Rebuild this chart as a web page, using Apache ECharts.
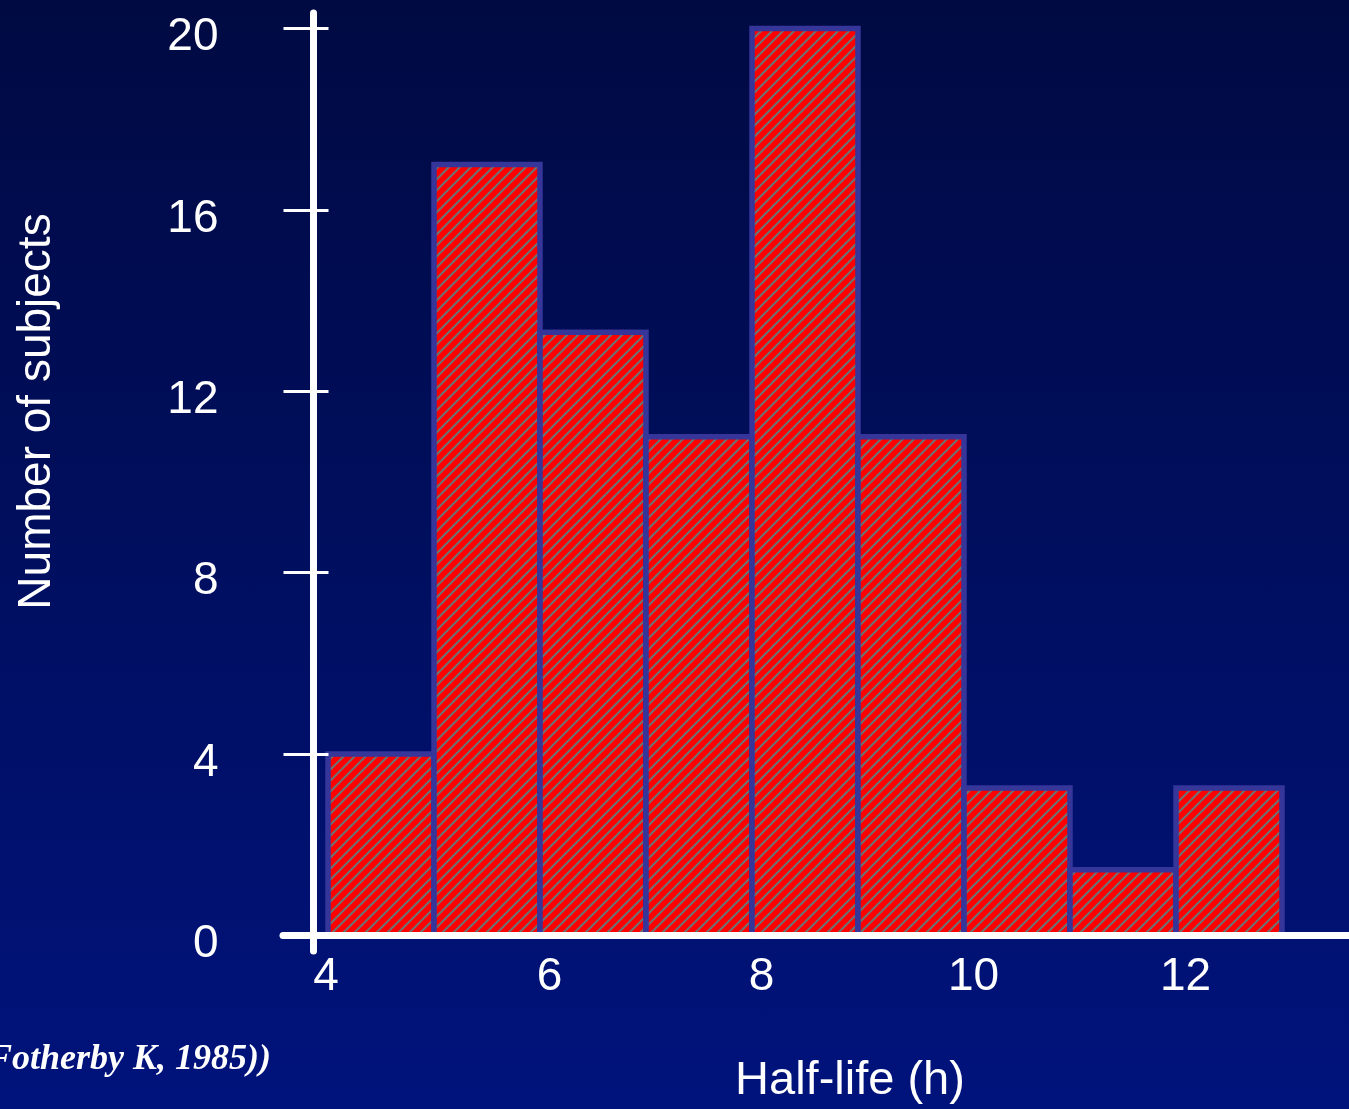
<!DOCTYPE html>
<html><head><meta charset="utf-8">
<script src="https://cdn.jsdelivr.net/npm/echarts@6/dist/echarts.min.js"></script>
<style>
html,body{margin:0;padding:0;width:1349px;height:1109px;overflow:hidden;background:linear-gradient(to bottom,#000a42 0%,#000e5c 45%,#00137c 100%);}
#c{width:1349px;height:1109px;}
</style>
</head><body><div id="c"></div>
<script>
// ---- data ----
const binStarts = [4, 5, 6, 7, 8, 9, 10, 11, 12];
const binEnds   = [5, 6, 7, 8, 9, 10, 11, 12, 13];
const counts    = [4, 17, 13.3, 11, 20, 11, 3.25, 1.45, 3.25];
const xTickLabels = [4, 6, 8, 10, 12];
const yTickLabels = [0, 4, 8, 12, 16, 20];
const yTitle = 'Number of subjects';
const xTitle = 'Half-life (h)';
const sourceText = '(Fotherby K, 1985))';

// hatch pattern
const pc = document.createElement('canvas');
const P = 11;
pc.width = P; pc.height = P;
const g = pc.getContext('2d');
g.fillStyle = '#ff0000';
g.fillRect(0, 0, P, P);
g.strokeStyle = '#707070';
g.lineWidth = 2.2;
for (let k = -1; k <= 1; k++) {
  g.beginPath();
  g.moveTo(k * P - 1, P + 1);
  g.lineTo(k * P + P + 1, -1);
  g.stroke();
}
const hatch = { image: pc, repeat: 'repeat' };

const barData = binStarts.map((s, i) => [s, binEnds[i], counts[i]]);

const FONT = '"Liberation Sans", Arial, sans-serif';
const chart = echarts.init(document.getElementById('c'), null, { renderer: 'canvas' });

const yCommon = {
  type: 'value', position: 'left', offset: -30.5,
  min: -0.342, max: 20.342,
  splitLine: { show: false }
};

chart.setOption({
  backgroundColor: 'transparent',
  animation: false,
  grid: { left: 283, right: 0, top: 13, bottom: 158, containLabel: false },
  xAxis: {
    type: 'value', min: 3.5755, max: 13.632, z: 5,
    axisLine: { onZero: true, lineStyle: { color: '#ffffff', width: 7 } },
    axisTick: { show: false },
    splitLine: { show: false },
    axisLabel: {
      customValues: xTickLabels,
      margin: 3,
      color: '#ffffff',
      fontSize: 46,
      fontFamily: FONT,
      formatter: v => (v === xTickLabels[0] ? '{a|' + v + '}' : '{b|' + v + '}'),
      rich: {
        a: { color: '#ffffff', fontSize: 46, fontFamily: FONT, padding: [0, 4, 0, 0] },
        b: { color: '#ffffff', fontSize: 46, fontFamily: FONT, padding: [0, 0, 0, 19] }
      }
    }
  },
  yAxis: [
    Object.assign({}, yCommon, {
      z: 5,
      axisLine: { show: true, onZero: false, lineStyle: { color: '#ffffff', width: 7 } },
      axisTick: { show: true, customValues: yTickLabels, length: 30, inside: false,
                  lineStyle: { color: '#ffffff', width: 3 } },
      axisLabel: { customValues: yTickLabels, margin: 95, color: '#ffffff',
                   fontSize: 46, fontFamily: FONT,
                   formatter: v => '{a|' + v + '}',
                   rich: { a: { color: '#ffffff', fontSize: 46, fontFamily: FONT, padding: [18, 0, 0, 0] } } }
    }),
    Object.assign({}, yCommon, {
      z: 5,
      axisLine: { show: false, onZero: false },
      axisTick: { show: true, customValues: yTickLabels, length: 15, inside: true,
                  lineStyle: { color: '#ffffff', width: 3 } },
      axisLabel: { show: false }
    })
  ],
  series: [{
    type: 'custom',
    z: 2,
    data: barData,
    encode: { x: [0, 1], y: 2 },
    renderItem: function (params, api) {
      const p0 = api.coord([api.value(0), api.value(2)]);
      const p1 = api.coord([api.value(1), 0]);
      return {
        type: 'rect',
        shape: { x: p0[0], y: p0[1], width: p1[0] - p0[0], height: p1[1] - p0[1] },
        style: { fill: hatch, stroke: '#35359a', lineWidth: 5.5 }
      };
    }
  }],
  graphic: [
    { type: 'text', x: 37, y: 411.5, rotation: Math.PI / 2,
      style: { text: yTitle, fill: '#ffffff', font: '46px ' + FONT, align: 'center', verticalAlign: 'middle' } },
    { type: 'text', x: 850, y: 1081,
      style: { text: xTitle, fill: '#ffffff', font: '47px ' + FONT, align: 'center', verticalAlign: 'middle' } },
    { type: 'text', x: 271, y: 1060,
      style: { text: sourceText, fill: '#ffffff', font: 'italic bold 36px "Liberation Serif", "Times New Roman", serif',
               align: 'right', verticalAlign: 'middle' } }
  ]
});
</script>
</body></html>
